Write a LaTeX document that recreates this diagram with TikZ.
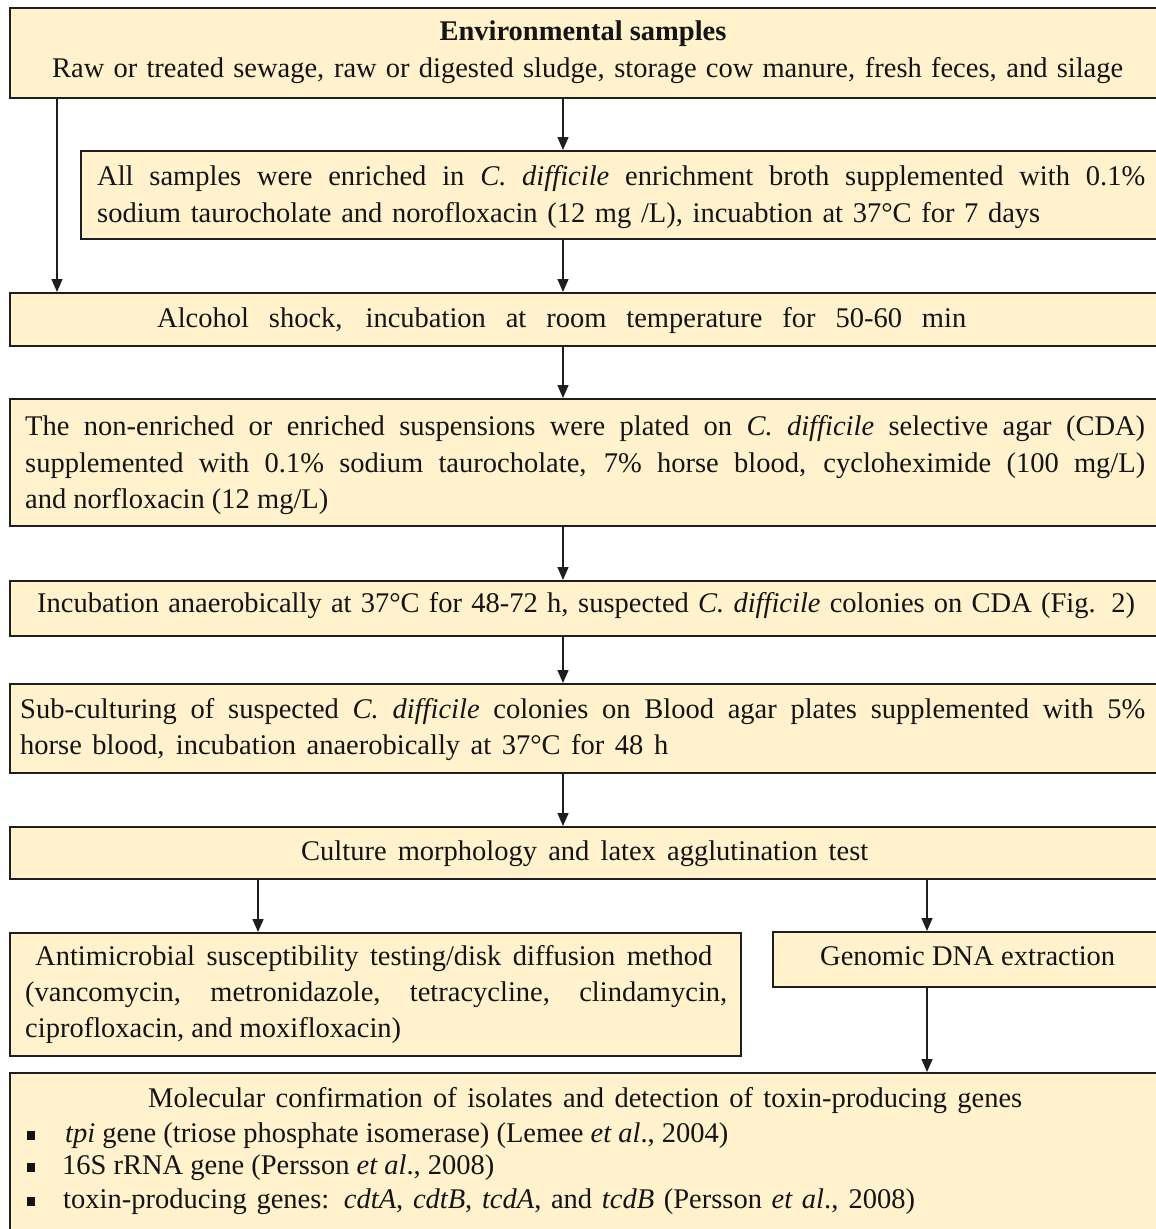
\documentclass[tikz,border=0pt]{standalone}
\usepackage{fontspec}
\setmainfont{Liberation Serif}
\usetikzlibrary{arrows.meta}
\definecolor{boxfill}{HTML}{FFF2CC}
\definecolor{edge}{HTML}{1E1E1E}
\newcommand\figfs{\fontsize{28.5}{36}\selectfont}
\newcommand\jl[2]{\makebox[#1pt][s]{#2}}
\begin{document}
\begin{tikzpicture}[x=1pt,y=-1pt,
  box/.style={draw=edge, line width=1.8pt, fill=boxfill, anchor=north west, inner sep=0pt},
  txt/.style={anchor=base west, inner sep=0pt, font=\figfs, text=black!92},
  ctxt/.style={anchor=base, inner sep=0pt, font=\figfs, text=black!92},
  bul/.style={fill=black!92, inner sep=0pt, minimum width=8pt, minimum height=9pt},
  arr/.style={draw=edge, line width=1.5pt, -{Triangle[length=13pt,width=11pt]}}]
\useasboundingbox (0,0) rectangle (1156,1229);
% boxes
\node[box, minimum width=1161pt, minimum height=90pt] (b1) at (9,7) {};
\node[box, minimum width=1090pt, minimum height=88pt] (b2) at (80,150) {};
\node[box, minimum width=1161pt, minimum height=53pt] (b3) at (9,292) {};
\node[box, minimum width=1161pt, minimum height=127pt] (b4) at (9,398) {};
\node[box, minimum width=1161pt, minimum height=55pt] (b5) at (9,580) {};
\node[box, minimum width=1161pt, minimum height=89pt] (b6) at (9,683) {};
\node[box, minimum width=1161pt, minimum height=52pt] (b7) at (9,826) {};
\node[box, minimum width=731pt, minimum height=123pt] (b8) at (9,932) {};
\node[box, minimum width=400pt, minimum height=55pt] (b9) at (772,931) {};
\node[box, minimum width=1161pt, minimum height=175pt] (b10) at (9,1072) {};
% texts
\node[ctxt, font=\figfs\bfseries] (t1a) at (583,40) {Environmental samples};
\node[txt] (t1b) at (52,77) {\jl{1071}{Raw or treated sewage, raw or digested sludge, storage cow manure, fresh feces, and silage}};
\node[txt] (t2a) at (97,185) {\jl{1048}{All samples were enriched in \textit{C. difficile} enrichment broth supplemented with 0.1\%}};
\node[txt] (t2b) at (97,222) {\jl{943}{sodium taurocholate and norofloxacin (12 mg /L), incuabtion at 37°C for 7 days}};
\node[txt] (t3) at (157,327) {\jl{809}{Alcohol shock, incubation at room temperature for 50-60 min}};
\node[txt] (t4a) at (25,435) {\jl{1120}{The non-enriched or enriched suspensions were plated on \textit{C. difficile} selective agar (CDA)}};
\node[txt] (t4b) at (25,472) {\jl{1120}{supplemented with 0.1\% sodium taurocholate, 7\% horse blood, cycloheximide (100 mg/L)}};
\node[txt] (t4c) at (25,508) {and norfloxacin (12 mg/L)};
\node[txt] (t5) at (37,612) {\jl{1098}{Incubation anaerobically at 37°C for 48-72 h, suspected \textit{C. difficile} colonies on CDA (Fig. 2)}};
\node[txt] (t6a) at (20,718) {\jl{1125}{Sub-culturing of suspected \textit{C. difficile} colonies on Blood agar plates supplemented with 5\%}};
\node[txt] (t6b) at (20,754) {\jl{648}{horse blood, incubation anaerobically at 37°C for 48 h}};
\node[txt] (t7) at (301,860) {\jl{567}{Culture morphology and latex agglutination test}};
\node[txt] (t8a) at (35,965) {\jl{677}{Antimicrobial susceptibility testing/disk diffusion method}};
\node[txt] (t8b) at (25,1001) {\jl{702}{(vancomycin, metronidazole, tetracycline, clindamycin,}};
\node[txt] (t8c) at (25,1037) {ciprofloxacin, and moxifloxacin)};
\node[txt] (t9) at (820,965) {\jl{295}{Genomic DNA extraction}};
\node[txt] (t10a) at (148,1107) {\jl{874}{Molecular confirmation of isolates and detection of toxin-producing genes}};
\node[bul] (bl1) at (31,1135) {};
\node[txt] (t10b) at (65,1142) {\textit{tpi} gene (triose phosphate isomerase) (Lemee \textit{et al}., 2004)};
\node[bul] (bl2) at (31,1167) {};
\node[txt] (t10c) at (62,1174) {16S rRNA gene (Persson \textit{et al}., 2008)};
\node[bul] (bl3) at (31,1201) {};
\node[txt] (t10d) at (63,1208) {\jl{852}{toxin-producing genes: \textit{cdtA}, \textit{cdtB}, \textit{tcdA}, and \textit{tcdB} (Persson \textit{et al}., 2008)}};
% arrow columns
\coordinate (cx) at (563,0);
\coordinate (lx) at (57,0);
\coordinate (ax) at (258,0);
\coordinate (gx) at (927,0);
% connectors
\draw[arr] (b1.south -| cx) -- (b2.north -| cx);
\draw[arr] (b1.south -| lx) -- (b3.north -| lx);
\draw[arr] (b2.south -| cx) -- (b3.north -| cx);
\draw[arr] (b3.south -| cx) -- (b4.north -| cx);
\draw[arr] (b4.south -| cx) -- (b5.north -| cx);
\draw[arr] (b5.south -| cx) -- (b6.north -| cx);
\draw[arr] (b6.south -| cx) -- (b7.north -| cx);
\draw[arr] (b7.south -| ax) -- (b8.north -| ax);
\draw[arr] (b7.south -| gx) -- (b9.north -| gx);
\draw[arr] (b9.south -| gx) -- (b10.north -| gx);
\end{tikzpicture}
\end{document}
